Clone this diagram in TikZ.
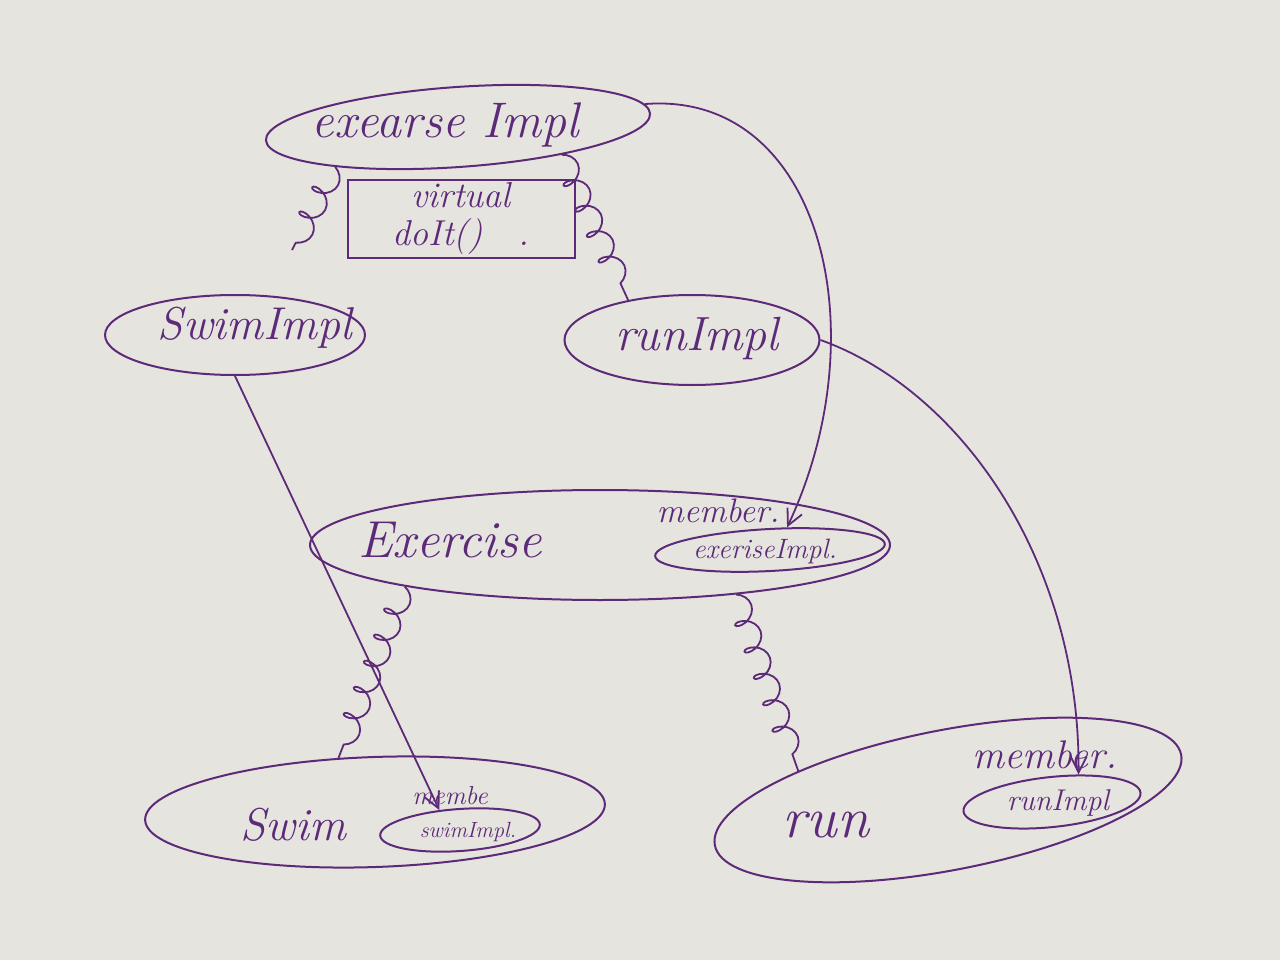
\documentclass[tikz,border=0pt]{standalone}
\usetikzlibrary{shapes.geometric,decorations.pathmorphing,arrows.meta}
\definecolor{ink}{RGB}{92,42,120}
\definecolor{paper}{RGB}{230,228,222}
\begin{document}
\begin{tikzpicture}[x=1pt,y=-1pt,
  oval/.style={draw=ink, line width=2pt, ellipse, inner sep=0pt},
  txt/.style={text=ink, inner sep=1pt, font=\fontsize{#1}{#1}\selectfont\itshape},
  boxnode/.style={draw=ink, line width=2pt, align=center, inner sep=0pt, text=ink,
    font=\fontsize{36}{38}\selectfont\itshape},
  conn/.style={draw=ink, line width=1.8pt, -{Straight Barb[length=16pt,width=16pt]}},
  inherit/.style={draw=ink, line width=1.8pt, decorate,
    decoration={coil, aspect=0.7, amplitude=11pt, segment length=28pt}},
  ]
\fill[paper] (0,0) rectangle (1280,960);
\useasboundingbox (0,0) rectangle (1280,960);

% top class
\node[oval, minimum width=385pt, minimum height=80pt, rotate=4] (ei) at (458,127) {};
\node[txt=50] (eit) at (445,125) {exearse Impl};
\node[boxnode, minimum width=227pt, minimum height=78pt] (vd) at (461,219) {virtual\\doIt()\quad .};

% impls
\node[oval, minimum width=260pt, minimum height=80pt] (swi) at (235,335) {};
\node[txt=46] (swit) at (255,328) {SwimImpl};
\node[oval, minimum width=255pt, minimum height=90pt] (ri) at (692,340) {};
\node[txt=48] (rit) at (697,338) {runImpl};

% Exercise
\node[oval, minimum width=580pt, minimum height=110pt] (ex) at (600,545) {};
\node[txt=52] (ext) at (450,540) {Exercise};
\node[txt=34] (exm) at (718,511) {member.};
\node[oval, minimum width=230pt, minimum height=42pt, rotate=3] (eimem) at (770,550) {};
\node[txt=28] (eimemt) at (765,551) {exeriseImpl.};

% Swim
\node[oval, minimum width=460pt, minimum height=110pt, rotate=2] (sw) at (375,812) {};
\node[txt=46] (swt) at (293,825) {Swim};
\node[txt=26] (swm) at (450,796) {membe};
\node[oval, minimum width=160pt, minimum height=42pt, rotate=4] (swimem) at (460,830) {};
\node[txt=22] (swimemt) at (468,832) {swimImpl.};

% run
\node[oval, minimum width=475pt, minimum height=140pt, rotate=11] (run) at (948,800) {};
\node[txt=58] (runt) at (826,825) {run};
\node[txt=40] (runm) at (1045,755) {member.};
\node[oval, minimum width=178pt, minimum height=50pt, rotate=6] (runmem) at (1052,802) {};
\node[txt=30] (runmemt) at (1058,803) {runImpl};

% coordinates for free ends
\coordinate (sq1) at (292,250);

% inheritance squiggles
\draw[inherit] (ei.194) -- (sq1);
\draw[inherit] (ei.341) -- (ri.148);
\draw[inherit] (ex.192) -- (sw.122);
\draw[inherit] (ex.340) -- (run.158);

% member connectors
\draw[conn] (ei.3) .. controls (820,90) and (880,330) .. (eimem.50);
\draw[conn] (swi.south) -- (swimem.132);
\draw[conn] (ri.east) .. controls (960,390) and (1080,560) .. (runmem.40);
\end{tikzpicture}
\end{document}
